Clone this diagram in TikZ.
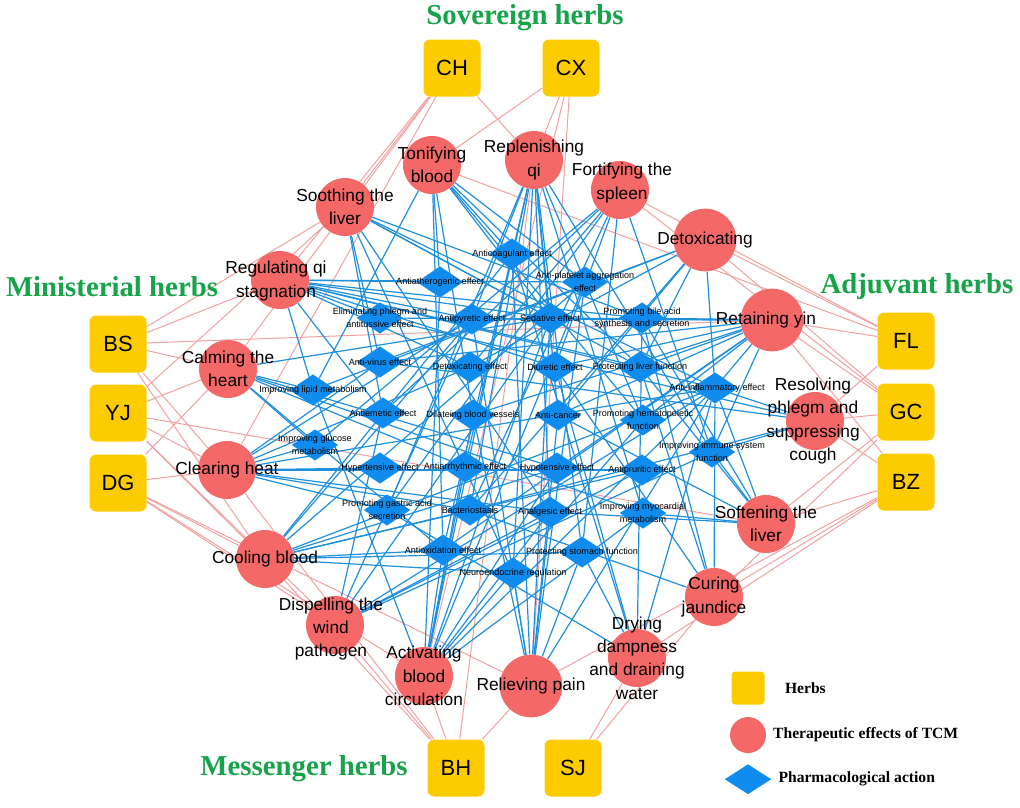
\documentclass[tikz,border=0pt]{standalone}
\usepackage{fontspec}
\setmainfont{Liberation Serif}
\newfontfamily\arialfont{Liberation Sans}
\usetikzlibrary{shapes.geometric,positioning,backgrounds}
\definecolor{herbyellow}{RGB}{253,204,0}
\definecolor{effectred}{RGB}{244,104,104}
\definecolor{actionblue}{RGB}{16,140,238}
\definecolor{blueline}{RGB}{30,144,222}
\definecolor{pinkline}{RGB}{240,162,162}
\definecolor{titlegreen}{RGB}{22,163,74}
\newcommand{\fsz}[2]{\fontsize{#1}{#2}\selectfont}
\tikzset{
  herb/.style={rectangle, rounded corners=5pt, fill=herbyellow, minimum size=42.75pt, inner sep=0pt, font=\arialfont\fsz{16.5}{20}},
  effect/.style={circle, fill=effectred, minimum size=43.5pt, inner sep=0pt},
  bigeffect/.style={effect, minimum size=47pt},
  action/.style={diamond, fill=actionblue, minimum width=35pt, minimum height=23.5pt, inner sep=0pt},
  efftext/.style={font=\arialfont\fsz{13}{17.5}, align=center, inner sep=0pt},
  acttext/.style={font=\arialfont\fsz{6.8}{9.5}, align=center, inner sep=0pt},
  grouptitle/.style={font=\bfseries\fsz{21.6}{24}, text=titlegreen, inner sep=0pt},
  pinkedge/.style={draw=pinkline, line width=0.75pt},
  blueedge/.style={draw=blueline, line width=0.9pt},
  legtext/.style={font=\bfseries\fsz{11.7}{14}, inner sep=0pt}
}
\begin{document}
\begin{tikzpicture}[x=0.75pt, y=-0.75pt]
  \useasboundingbox (0,0) rectangle (1020,807);

  % group titles
  \node[grouptitle] (t-sov) at (525,18) {Sovereign herbs};
  \node[grouptitle] (t-min) at (112,287) {Ministerial herbs};
  \node[grouptitle] (t-adj) at (917,287) {Adjuvant herbs};
  \node[grouptitle] (t-mes) at (304,769) {Messenger herbs};

  % herbs
  \node[herb] (CH) at (452,68) {CH};
  \node[herb] (CX) at (571,68) {CX};
  \node[herb] (BS) at (118,344) {BS};
  \node[herb] (YJ) at (118,413) {YJ};
  \node[herb] (DG) at (118,483) {DG};
  \node[herb] (FL) at (906,341) {FL};
  \node[herb] (GC) at (906,412) {GC};
  \node[herb] (BZ) at (906,482) {BZ};
  \node[herb] (BH) at (456,768) {BH};
  \node[herb] (SJ) at (573,768) {SJ};

  % therapeutic effects
  \node[effect] (tonify) at (432,165) {};
  \node[effect] (repl) at (534,160) {};
  \node[effect] (soothe) at (345,207) {};
  \node[effect] (fortify) at (620,190) {};
  \node[bigeffect] (detox) at (705,240) {};
  \node[effect] (regqi) at (280,280) {};
  \node[bigeffect] (retyin) at (772,320) {};
  \node[effect] (calm) at (228,369) {};
  \node[effect] (resolve) at (815,421) {};
  \node[effect] (clear) at (227,470) {};
  \node[effect] (soften) at (766,524) {};
  \node[effect] (cool) at (265,559) {};
  \node[effect] (curing) at (714,597) {};
  \node[effect] (dispel) at (335,625) {};
  \node[effect] (drying) at (637,658) {};
  \node[effect] (activate) at (424,676) {};
  \node[bigeffect] (relieve) at (531,686) {};

  % pharmacological actions
  \node[action] (anticoag) at (512,254) {};
  \node[action] (antiath) at (440,282) {};
  \node[action] (antiplat) at (585,282) {};
  \node[action] (elimph) at (380,318) {};
  \node[action] (antipyr) at (472,319) {};
  \node[action] (sedat) at (550,318) {};
  \node[action] (bile) at (642,318) {};
  \node[action] (antivir) at (380,362) {};
  \node[action] (detoxe) at (470,367) {};
  \node[action] (diur) at (555,367) {};
  \node[action] (protliv) at (640,367) {};
  \node[action] (lipid) at (313,390) {};
  \node[action] (antiinf) at (715,388) {};
  \node[action] (antiem) at (383,413) {};
  \node[action] (dilate) at (473,415) {};
  \node[action] (cancer) at (558,415) {};
  \node[action] (hemat) at (643,420) {};
  \node[action] (glucose) at (315,445) {};
  \node[action] (immune) at (712,452) {};
  \node[action] (hypert) at (380,468) {};
  \node[action] (arrhy) at (465,467) {};
  \node[action] (hypot) at (557,468) {};
  \node[action] (prurit) at (642,470) {};
  \node[action] (gastric) at (387,510) {};
  \node[action] (bacter) at (470,510) {};
  \node[action] (analg) at (550,512) {};
  \node[action] (myoc) at (643,513) {};
  \node[action] (antiox) at (443,550) {};
  \node[action] (protst) at (582,552) {};
  \node[action] (neuro) at (513,573) {};

  % connectors
  \begin{scope}[on background layer]
    \fill[white] (0,0) rectangle (1020,807);
    \foreach \e in {soothe,regqi,calm,clear,repl} \draw[pinkedge] (CH) -- (\e);
    \foreach \e in {tonify,repl,activate,relieve} \draw[pinkedge] (CX) -- (\e);
    \foreach \e in {regqi,soothe,calm,retyin,clear,cool} \draw[pinkedge] (BS) -- (\e);
    \foreach \e in {soothe,calm,clear,soften,cool,dispel} \draw[pinkedge] (YJ) -- (\e);
    \foreach \e in {calm,clear,cool,dispel,activate,relieve} \draw[pinkedge] (DG) -- (\e);
    \foreach \e in {fortify,detox,retyin,resolve,tonify} \draw[pinkedge] (FL) -- (\e);
    \foreach \e in {detox,retyin,resolve,soften,curing,fortify} \draw[pinkedge] (GC) -- (\e);
    \foreach \e in {retyin,resolve,soften,curing,drying,relieve} \draw[pinkedge] (BZ) -- (\e);
    \foreach \e in {cool,dispel,activate,relieve,clear,repl} \draw[pinkedge] (BH) -- (\e);
    \foreach \e in {drying,curing} \draw[pinkedge] (SJ) -- (\e);

    \foreach \a in {anticoag,antiplat,hemat,dilate,antiox,sedat,antiath,protliv,lipid}
      \draw[blueedge] (tonify) -- (\a);
    \foreach \a in {sedat,antiox,immune,hemat,analg,arrhy,protst,neuro,bacter,antipyr,cancer,gastric,myoc}
      \draw[blueedge] (repl) -- (\a);
    \foreach \a in {protliv,sedat,antiinf,bile,antivir,antiem,neuro,analg}
      \draw[blueedge] (soothe) -- (\a);
    \foreach \a in {protst,gastric,immune,diur,antiem,bacter,detoxe,glucose}
      \draw[blueedge] (fortify) -- (\a);
    \foreach \a in {detoxe,antiinf,antivir,bacter,cancer,protliv,lipid}
      \draw[blueedge] (detox) -- (\a);
    \foreach \a in {antiath,elimph,antipyr,sedat,bile,antiplat,detoxe,diur,protliv,antiinf,lipid,antiem}
      \draw[blueedge] (regqi) -- (\a);
    \foreach \a in {antiinf,hemat,antipyr,protliv,diur,sedat,bile,cancer,antivir,elimph,immune,hypot,dilate,antiox}
      \draw[blueedge] (retyin) -- (\a);
    \foreach \a in {sedat,arrhy,hypot,myoc,antiox,lipid,glucose}
      \draw[blueedge] (calm) -- (\a);
    \foreach \a in {elimph,antiinf,antivir,bacter,immune}
      \draw[blueedge] (resolve) -- (\a);
    \foreach \a in {antipyr,antiinf,antivir,bacter,detoxe,hypert,glucose,prurit,analg,gastric}
      \draw[blueedge] (clear) -- (\a);
    \foreach \a in {protliv,bile,antiinf,cancer,immune,myoc,analg}
      \draw[blueedge] (soften) -- (\a);
    \foreach \a in {anticoag,antiplat,hypot,antipyr,antiox,prurit,antiinf,neuro,protst,bacter}
      \draw[blueedge] (cool) -- (\a);
    \foreach \a in {protliv,bile,diur,antiinf,bacter}
      \draw[blueedge] (curing) -- (\a);
    \foreach \a in {antiinf,analg,antipyr,prurit,sedat,immune,antiem}
      \draw[blueedge] (dispel) -- (\a);
    \foreach \a in {diur,bile,protst,gastric,antiinf,anticoag}
      \draw[blueedge] (drying) -- (\a);
    \foreach \a in {anticoag,antiplat,dilate,analg,antiath,hypot,lipid,arrhy,myoc,hemat,antiox,antiinf,sedat}
      \draw[blueedge] (activate) -- (\a);
    \foreach \a in {analg,sedat,antiinf,neuro,protst,dilate,anticoag,antiplat,antipyr,cancer}
      \draw[blueedge] (relieve) -- (\a);
  \end{scope}

  % effect labels
  \node[efftext] (tonify-t) at (tonify) {Tonifying\\blood};
  \node[efftext] (repl-t) at (repl) {Replenishing\\qi};
  \node[efftext] (soothe-t) at (soothe) {Soothing the\\liver};
  \node[efftext] (fortify-t) at (622,183) {Fortifying the\\spleen};
  \node[efftext] (detox-t) at (detox) {Detoxicating};
  \node[efftext] (regqi-t) at (276,281) {Regulating qi\\stagnation};
  \node[efftext] (retyin-t) at (766,320) {Retaining yin};
  \node[efftext] (calm-t) at (calm) {Calming the\\heart};
  \node[efftext] (resolve-t) at (813,421) {Resolving\\phlegm and\\suppressing\\cough};
  \node[efftext] (clear-t) at (clear) {Clearing heat};
  \node[efftext] (soften-t) at (soften) {Softening the\\liver};
  \node[efftext] (cool-t) at (cool) {Cooling blood};
  \node[efftext] (curing-t) at (curing) {Curing\\jaundice};
  \node[efftext] (dispel-t) at (331,629) {Dispelling the\\wind\\pathogen};
  \node[efftext] (drying-t) at (drying) {Drying\\dampness\\and draining\\water};
  \node[efftext] (activate-t) at (activate) {Activating\\blood\\circulation};
  \node[efftext] (relieve-t) at (relieve) {Relieving pain};

  % action labels
  \node[acttext] (anticoag-t) at (anticoag) {Anticoagulant effect};
  \node[acttext] (antiath-t) at (antiath) {Antiatherogenic effect};
  \node[acttext] (antiplat-t) at (antiplat) {Anti-platelet aggregation\\effect};
  \node[acttext] (elimph-t) at (elimph) {Eliminating phlegm and\\antitussive effect};
  \node[acttext] (antipyr-t) at (antipyr) {Antipyretic effect};
  \node[acttext] (sedat-t) at (sedat) {Sedative effect};
  \node[acttext] (bile-t) at (bile) {Promoting bile acid\\synthesis and secretion};
  \node[acttext] (antivir-t) at (antivir) {Anti-virus effect};
  \node[acttext] (detoxe-t) at (detoxe) {Detoxicating effect};
  \node[acttext] (diur-t) at (diur) {Diuretic effect};
  \node[acttext] (protliv-t) at (protliv) {Protecting liver function};
  \node[acttext] (lipid-t) at (lipid) {Improving lipid metabolism};
  \node[acttext] (antiinf-t) at (717,388) {Anti-inflammatory effect};
  \node[acttext] (antiem-t) at (antiem) {Antiemetic effect};
  \node[acttext] (dilate-t) at (dilate) {Dilateing blood vessels};
  \node[acttext] (cancer-t) at (cancer) {Anti-cancer};
  \node[acttext] (hemat-t) at (hemat) {Promoting hematopoietic\\function};
  \node[acttext] (glucose-t) at (glucose) {Improving glucose\\metabolism};
  \node[acttext] (immune-t) at (immune) {Improving immune system\\function};
  \node[acttext] (hypert-t) at (hypert) {Hypertensive effect};
  \node[acttext] (arrhy-t) at (arrhy) {Antiarrhythmic effect};
  \node[acttext] (hypot-t) at (hypot) {Hypotensive effect};
  \node[acttext] (prurit-t) at (prurit) {Antipruritic effect};
  \node[acttext] (gastric-t) at (gastric) {Promoting gastric acid\\secretion};
  \node[acttext] (bacter-t) at (bacter) {Bacteriostasis};
  \node[acttext] (analg-t) at (analg) {Analgesic effect};
  \node[acttext] (myoc-t) at (myoc) {Improving myocardial\\metabolism};
  \node[acttext] (antiox-t) at (antiox) {Antioxidation effect};
  \node[acttext] (protst-t) at (protst) {Protecting stomach function};
  \node[acttext] (neuro-t) at (neuro) {Neuroendocrine regulation};

  % legend
  \node[herb, minimum size=24.75pt, rounded corners=3pt] (leg-herb) at (748,688) {};
  \node[effect, minimum size=27pt, below=9pt of leg-herb] (leg-eff) {};
  \node[action, minimum width=35pt, minimum height=22.5pt, below=8pt of leg-eff] (leg-act) {};
  \node[legtext, right=15pt of leg-herb] (leg-herb-t) {Herbs};
  \node[legtext, right=5pt of leg-eff] (leg-eff-t) {Therapeutic effects of TCM};
  \node[legtext, right=5pt of leg-act] (leg-act-t) {Pharmacological action};
\end{tikzpicture}
\end{document}
